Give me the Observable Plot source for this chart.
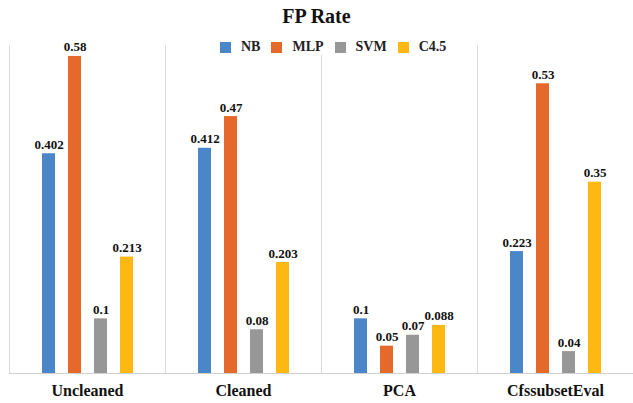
<!DOCTYPE html>
<html>
<head>
<meta charset="utf-8">
<script src="https://cdn.jsdelivr.net/npm/d3@7"></script>
<script src="https://cdn.jsdelivr.net/npm/@observablehq/plot@0.6"></script>
<style>
  html, body { margin: 0; padding: 0; background: #fff; }
  #wrap { position: relative; width: 633px; height: 403px; font-family: 'Liberation Serif'; }
  #title { position: absolute; left: 0; width: 633px; top: 5px; text-align: center; font-weight: bold; font-size: 20px; color: #111; z-index: 2; font-family: 'Liberation Serif'; }
  #legend { position: absolute; top: 39px; left: 220px; display: flex; align-items: center; font-weight: bold; font-size: 14px; color: #222; z-index: 2; background: #fff; height: 16px; font-family: 'Liberation Serif'; }
  .item { display: flex; align-items: center; margin-right: 11px; font-family: 'Liberation Serif'; }
  .sw { width: 11px; height: 11px; margin-right: 10px; }
  svg { position: absolute; left: 0; top: 0; }
</style>
</head>
<body>
<div id="wrap">
  <div id="title">FP Rate</div>
  <div id="legend"></div>
</div>
<script>
const categories = ["Uncleaned", "Cleaned", "PCA", "CfssubsetEval"];
const series = ["NB", "MLP", "SVM", "C4.5"];
const colors = ["#4a86c8", "#e4692b", "#979797", "#fdb812"];
const NB  = [0.402, 0.412, 0.1, 0.223];
const MLP = [0.58, 0.47, 0.05, 0.53];
const SVM = [0.1, 0.08, 0.07, 0.04];
const C45 = [0.213, 0.203, 0.088, 0.35];
const labels = {
  NB: ["0.402", "0.412", "0.1", "0.223"],
  MLP: ["0.58", "0.47", "0.05", "0.53"],
  SVM: ["0.1", "0.08", "0.07", "0.04"],
  "C4.5": ["0.213", "0.203", "0.088", "0.35"]
};

const valuesBySeries = {NB: NB, MLP: MLP, SVM: SVM, "C4.5": C45};
const data = [];
categories.forEach((c, i) => {
  series.forEach(s => {
    data.push({group: c, series: s, value: valuesBySeries[s][i], label: labels[s][i]});
  });
});

const serif = "Liberation Serif";

const chart = Plot.plot({
  width: 633,
  height: 403,
  marginTop: 45,
  marginBottom: 30,
  marginLeft: 8,
  marginRight: 0,
  style: "background: transparent; overflow: visible;",
  fx: {domain: categories, padding: 0, label: null},
  x: {domain: series, paddingInner: 0.5, paddingOuter: 1.16, axis: null},
  y: {domain: [0, 0.6], axis: null},
  color: {domain: series, range: colors},
  marks: [
    Plot.frame({anchor: "left", stroke: "#d9d9d9"}),
    Plot.barY(data, {fx: "group", x: "series", y: "value", fill: "series"}),
    Plot.ruleY([0], {stroke: "#d0d0d0"}),
    Plot.text(data, {fx: "group", x: "series", y: "value", text: "label", dy: -5, lineAnchor: "bottom", fontFamily: serif, fontWeight: "bold", fontSize: 13, fill: "#111"}),
    Plot.axisFx({anchor: "bottom", tickSize: 0, tickPadding: 11, fontFamily: serif, fontSize: 16, fontWeight: "bold", label: null, fill: "#111"})
  ]
});
chart.setAttribute("font-family", serif);

const wrap = document.getElementById("wrap");
wrap.insertBefore(chart, wrap.firstChild);

const legend = document.getElementById("legend");
series.forEach((s, i) => {
  const it = document.createElement("div");
  it.className = "item";
  const sw = document.createElement("div");
  sw.className = "sw";
  sw.style.background = colors[i];
  const t = document.createElement("span");
  t.textContent = s;
  t.style.fontFamily = serif;
  it.appendChild(sw);
  it.appendChild(t);
  legend.appendChild(it);
});
</script>
</body>
</html>
